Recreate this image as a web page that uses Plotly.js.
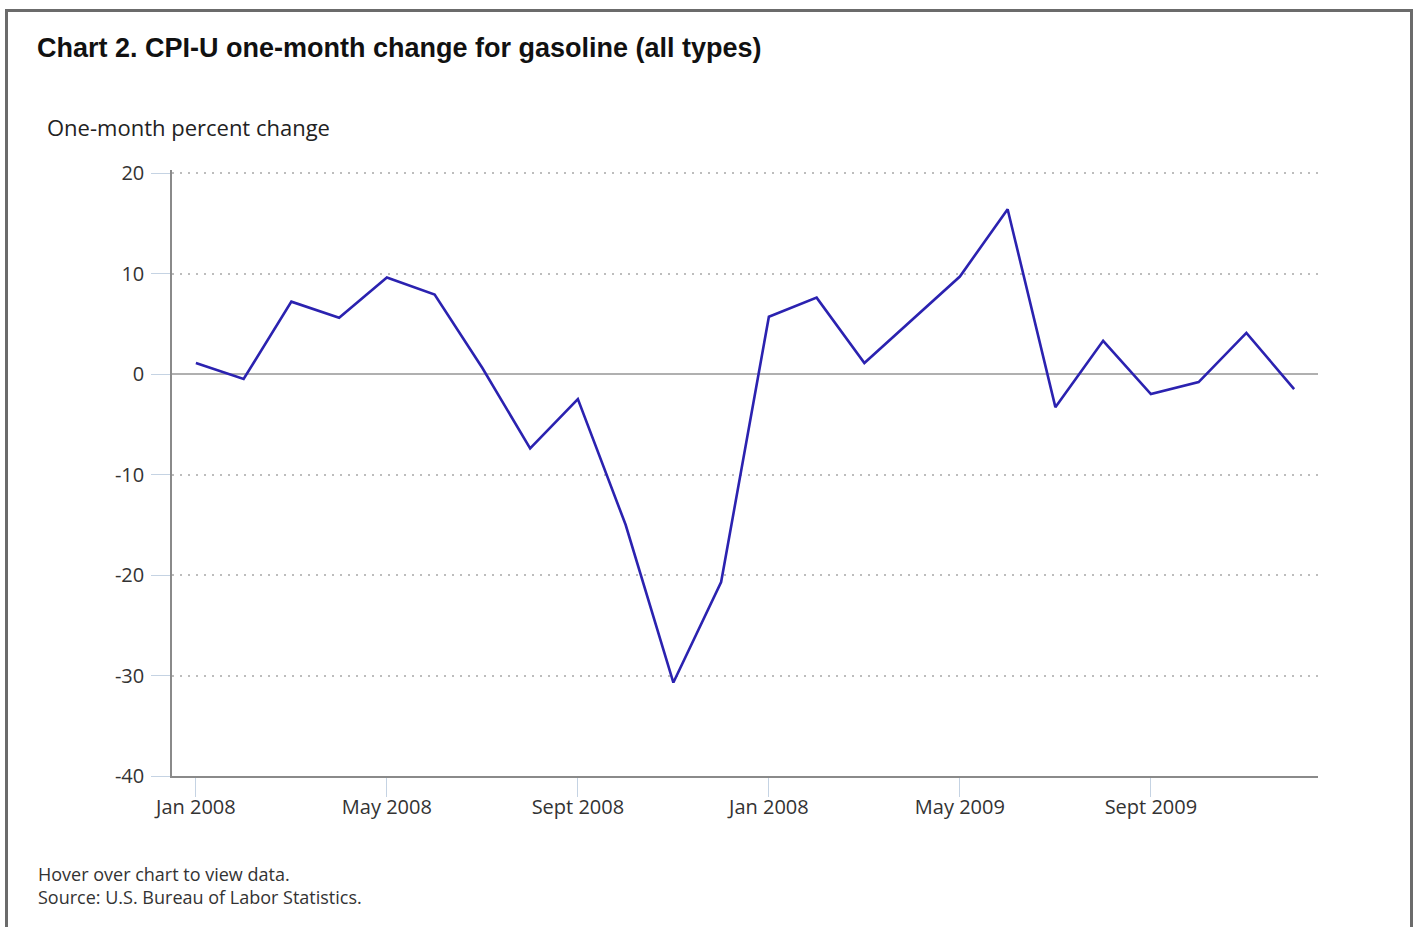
<!DOCTYPE html>
<html>
<head>
<meta charset="utf-8">
<script src="https://cdn.plot.ly/plotly-3.0.1.min.js"></script>
<style>
  html, body { margin: 0; padding: 0; background: #fff; }
  #chart { position: absolute; left: 0; top: 0; width: 1417px; height: 927px; }
  #frame { position: absolute; left: 5px; top: 9px; width: 1402px; height: 940px;
           border: 3px solid #6b6b6b; border-bottom: none; pointer-events: none; }
</style>
</head>
<body>
<div id="chart"></div>
<div id="frame"></div>
<script>
const months = ["Jan 2008","Feb 2008","Mar 2008","Apr 2008","May 2008","Jun 2008",
                "Jul 2008","Aug 2008","Sep 2008","Oct 2008","Nov 2008","Dec 2008",
                "Jan 2009","Feb 2009","Mar 2009","Apr 2009","May 2009","Jun 2009",
                "Jul 2009","Aug 2009","Sep 2009","Oct 2009","Nov 2009","Dec 2009"];
const pctChange = [1.1, -0.5, 7.2, 5.6, 9.6, 7.9,
                   0.6, -7.4, -2.5, -15.0, -30.7, -20.7,
                   5.7, 7.6, 1.1, 5.4, 9.7, 16.4,
                   -3.3, 3.3, -2.0, -0.8, 4.1, -1.5];
const tickMonths = ["Jan 2008","May 2008","Sep 2008","Jan 2009","May 2009","Sep 2009"];
const tickLabels = ["Jan 2008","May 2008","Sept 2008","Jan 2008","May 2009","Sept 2009"];
const yTicks = [20, 10, 0, -10, -20, -30, -40];
const yTickLabels = ["20", "10", "0", "-10", "-20", "-30", "-40"];

const W = 1417, H = 927;
const mL = 172, mR = 99, mT = 170, mB = 151;
const pw = W - mL - mR, ph = H - mT - mB;
const px = x => (x - mL) / pw;
const py = y => (H - mB - y) / ph;

const trace = {
  type: 'scatter', mode: 'lines',
  x: months, y: pctChange,
  line: { color: '#2b22b0', width: 2.6 },
  hoverinfo: 'x+y', showlegend: false
};

const font = "'Open Sans', 'Noto Sans', sans-serif";

const layout = {
  width: W, height: H,
  margin: { l: mL, r: mR, t: mT, b: mB, pad: 0 },
  paper_bgcolor: '#fff', plot_bgcolor: '#fff',
  title: {
    text: 'Chart 2. CPI-U one-month change for gasoline (all types)',
    font: { family: "'Liberation Sans', Arial, sans-serif", size: 27, color: '#111', weight: 'bold' },
    xref: 'container', yref: 'container',
    x: 37 / W, xanchor: 'left', y: 1 - 48 / H, yanchor: 'middle'
  },
  xaxis: {
    type: 'category',
    range: [-0.5, 23.5],
    tickmode: 'array', tickvals: tickMonths, ticktext: tickLabels,
    ticks: 'outside', ticklen: 19, tickwidth: 1, tickcolor: '#c5d3e3',
    ticklabelstandoff: -7,
    showline: true, linecolor: '#8a8a8a', linewidth: 2,
    showgrid: false, zeroline: false,
    tickfont: { family: font, size: 20, color: '#333' },
    fixedrange: true
  },
  yaxis: {
    range: [-40, 20.3],
    tickmode: 'array', tickvals: yTicks, ticktext: yTickLabels,
    ticks: 'outside', ticklen: 19, tickwidth: 1, tickcolor: '#c5d3e3',
    ticklabelstandoff: 3,
    showline: true, linecolor: '#8a8a8a', linewidth: 1.5,
    showgrid: true, gridcolor: '#bdbdbd', gridwidth: 1.5, griddash: '1.5px,6.5px',
    zeroline: true, zerolinecolor: '#b0b0b0', zerolinewidth: 1.5,
    tickfont: { family: font, size: 20, color: '#333' },
    fixedrange: true
  },
  annotations: [
    { text: 'One-month percent change', xref: 'paper', yref: 'paper',
      x: px(45), y: py(127), xanchor: 'left', yanchor: 'middle', showarrow: false,
      font: { family: font, size: 22, color: '#222' } },
    { text: 'Hover over chart to view data.', xref: 'paper', yref: 'paper',
      x: px(36), y: py(874), xanchor: 'left', yanchor: 'middle', showarrow: false,
      font: { family: font, size: 18, color: '#333' } },
    { text: 'Source: U.S. Bureau of Labor Statistics.', xref: 'paper', yref: 'paper',
      x: px(36), y: py(897), xanchor: 'left', yanchor: 'middle', showarrow: false,
      font: { family: font, size: 18, color: '#333' } }
  ]
};

Plotly.newPlot('chart', [trace], layout, { displayModeBar: false });
</script>
</body>
</html>
